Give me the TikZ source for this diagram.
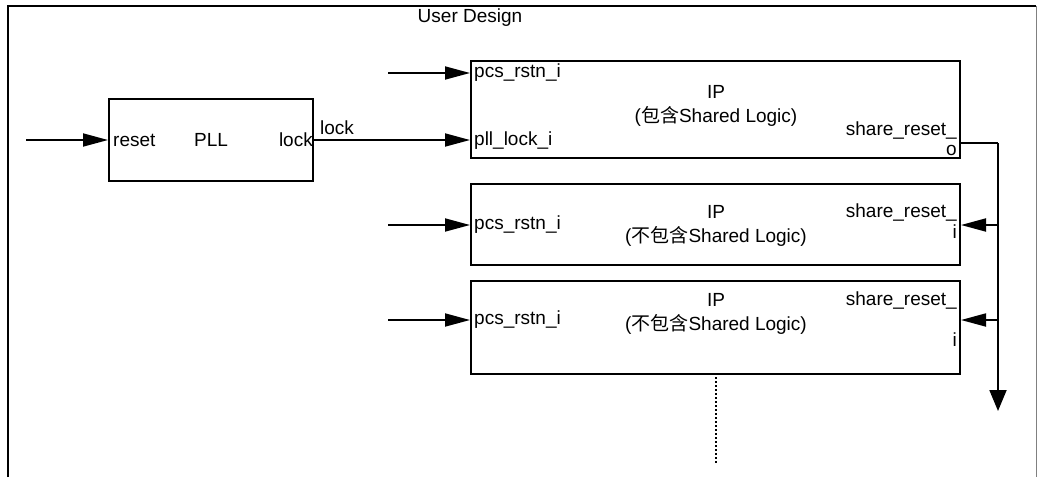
\documentclass[tikz,border=0pt]{standalone}
\usepackage{fontspec}
\setmainfont{Liberation Sans}
\newfontfamily\cjkfont{Noto Sans CJK SC}
\usetikzlibrary{arrows.meta,positioning}

\tikzset{
    caja/.style={draw, line width=2pt, inner sep=0pt},
    puerto/.style={inner sep=1pt},
    linea/.style={line width=1.8pt},
    flecha/.style={linea, -{Triangle[length=25pt,width=13pt]}},
    flechabajo/.style={linea, -{Triangle[length=21pt,width=17pt]}},
    every node/.append style={font=\fontsize{19}{21}\selectfont},
}

\begin{document}
\begin{tikzpicture}[x=1pt,y=-1pt]
    \useasboundingbox (0,0) rectangle (1037,477);

    % Marco
    \draw[line width=2pt] (8,477) -- (8,6) -- (1036,6);
    \draw[gray, line width=1pt] (1036,6) -- (1036,477);
    \node (titulo) at (470,18) {User Design};

    % PLL
    \node[caja, minimum width=204pt, minimum height=82pt] (pll) at (211,140) {PLL};
    \node[puerto, anchor=west] (pllreset) at ([xshift=4pt]pll.west) {reset};
    \node[puerto, anchor=east] (plllock) at (pll.east) {lock};
    \coordinate (rstin) at (26,140);
    \draw[flecha] (rstin) -- (pll.west);
    \node[puerto, anchor=south west] (locklbl) at ([xshift=5pt,yshift=4pt]pll.east) {lock};

    % IP con Shared Logic
    \node[caja, minimum width=489pt, minimum height=97pt] (ip1) at (715.5,109.5) {};
    \node (ip1nom) at (716,92) {IP};
    \node (ip1sub) at (716,116) {({\cjkfont 包含}Shared Logic)};
    \node[puerto, anchor=west] (ip1pcs) at (473,73) {pcs\_rstn\_i};
    \node[puerto, anchor=west] (ip1pll) at (473,141) {pll\_lock\_i};
    \node[puerto, anchor=east] (ip1sr) at (958,131) {share\_reset\_};
    \node[puerto, anchor=east] (ip1o) at (958,150) {o};
    \coordinate (in1) at (388,73);
    \draw[flecha] (in1) -- (in1 -| ip1.west);
    \draw[flecha] (pll.east) -- (pll.east -| ip1.west);

    % IP sin Shared Logic
    \node[caja, minimum width=489pt, minimum height=81pt] (ip2) at (715.5,224.5) {};
    \node (ip2nom) at (716,212) {IP};
    \node (ip2sub) at (716,236) {({\cjkfont 不包含}Shared Logic)};
    \node[puerto, anchor=west] (ip2pcs) at (473,225) {pcs\_rstn\_i};
    \node[puerto, anchor=east] (ip2sr) at (958,213) {share\_reset\_};
    \node[puerto, anchor=east] (ip2i) at (958,232) {i};
    \coordinate (in2) at (388,225);
    \draw[flecha] (in2) -- (in2 -| ip2.west);

    \node[caja, minimum width=489pt, minimum height=93pt] (ip3) at (715.5,327.5) {};
    \node (ip3nom) at (716,300) {IP};
    \node (ip3sub) at (716,324) {({\cjkfont 不包含}Shared Logic)};
    \node[puerto, anchor=west] (ip3pcs) at (473,320) {pcs\_rstn\_i};
    \node[puerto, anchor=east] (ip3sr) at (958,300) {share\_reset\_};
    \node[puerto, anchor=east] (ip3i) at (958,340) {i};
    \coordinate (in3) at (388,320);
    \draw[flecha] (in3) -- (in3 -| ip3.west);

    % share_reset
    \coordinate (bus) at (998,143);
    \coordinate (busfin) at (998,411);
    \draw[linea] (ip1.east |- bus) -- (bus);
    \draw[flechabajo] (bus) -- (busfin);
    \draw[flecha] (bus |- in2) -- (ip2.east |- in2);
    \draw[flecha] (bus |- in3) -- (ip3.east |- in3);

    % Puntos
    \coordinate (puntoa) at (716,377);
    \coordinate (puntob) at (716,463);
    \draw[line width=1.5pt, dash pattern=on 2pt off 2pt] (puntoa) -- (puntob);
\end{tikzpicture}
\end{document}
